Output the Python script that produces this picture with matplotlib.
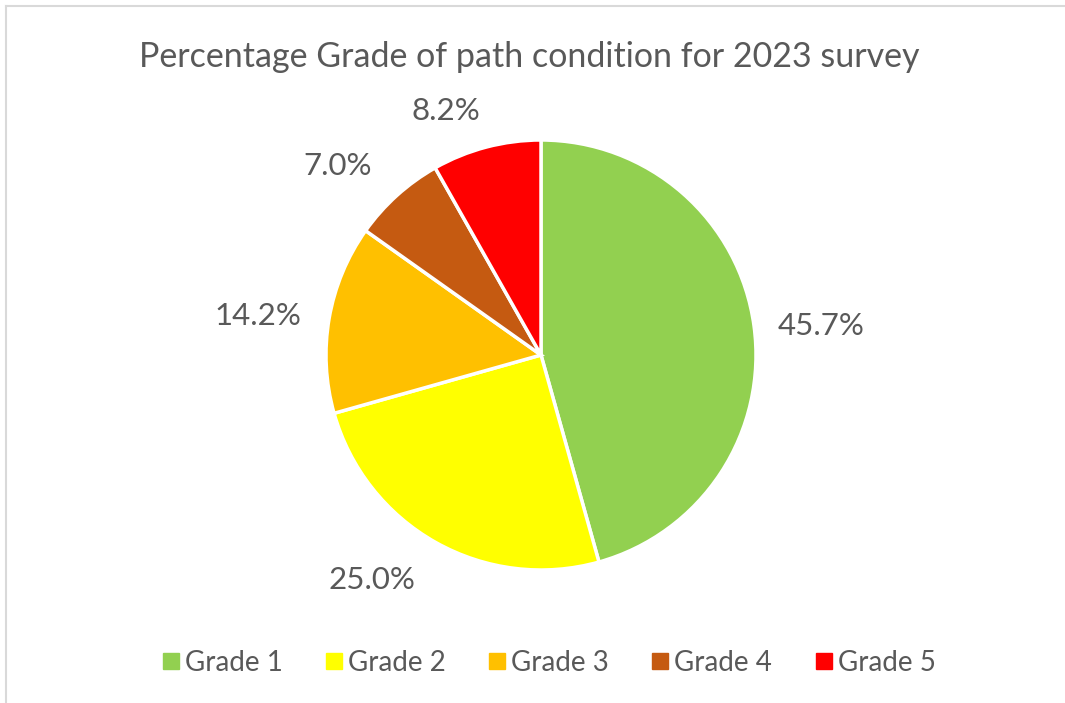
import matplotlib.pyplot as plt
from matplotlib.lines import Line2D
import numpy as np

plt.rcParams['font.family'] = ['Lato', 'DejaVu Sans']

grades = ['Grade 1', 'Grade 2', 'Grade 3', 'Grade 4', 'Grade 5']
percent = [45.7, 25.0, 14.2, 7.0, 8.2]
colors = ['#92D050', '#FFFF00', '#FFC000', '#C55A11', '#FF0000']

# label nudges (distance in radii, angle shift in degrees) to mimic Excel best fit
label_dist = [1.31, 1.31, 1.33, 1.29, 1.22]
label_shift = [-2.0, -7.5, 2.0, 5.0, 6.5]

txt_color = '#595959'

fig = plt.figure(figsize=(10.65, 7.03), dpi=100)
W, H = 1065, 703
cx, cy, r = 541, 355, 215
ax = fig.add_axes([(cx - r) / W, (H - cy - r) / H, 2 * r / W, 2 * r / H])

wedges, _ = ax.pie(percent, colors=colors, startangle=90, counterclock=False,
                   wedgeprops=dict(edgecolor='white', linewidth=2.5))
ax.set_xlim(-1, 1)
ax.set_ylim(-1, 1)
ax.axis('off')

for w, p, d, s in zip(wedges, percent, label_dist, label_shift):
    ang = np.deg2rad((w.theta1 + w.theta2) / 2 + s)
    ax.text(d * np.cos(ang), d * np.sin(ang), f'{p:.1f}%', ha='center', va='center',
            fontsize=22.5, color=txt_color, clip_on=False)

fig.text(0.497, 1 - 57 / H, 'Percentage Grade of path condition for 2023 survey',
         ha='center', va='center', fontsize=24.5, color=txt_color)

handles = [Line2D([], [], marker='s', linestyle='none', markersize=11,
                  markerfacecolor=c, markeredgecolor=c) for c in colors]
fig.legend(handles, grades, loc='center', bbox_to_anchor=(0.515, 1 - 663 / H), ncol=5,
           frameon=False, fontsize=20, labelcolor=txt_color, handletextpad=0.15,
           columnspacing=1.5, handlelength=0.7)

# thin chart-area border (only top and left visible in the crop)
fig.add_artist(Line2D([6 / W, 6 / W], [0, 1 - 6 / H], color='#D9D9D9', lw=1.5))
fig.add_artist(Line2D([6 / W, 1], [1 - 6 / H, 1 - 6 / H], color='#D9D9D9', lw=1.5))

fig.savefig('out.png', dpi=100, facecolor='white')
